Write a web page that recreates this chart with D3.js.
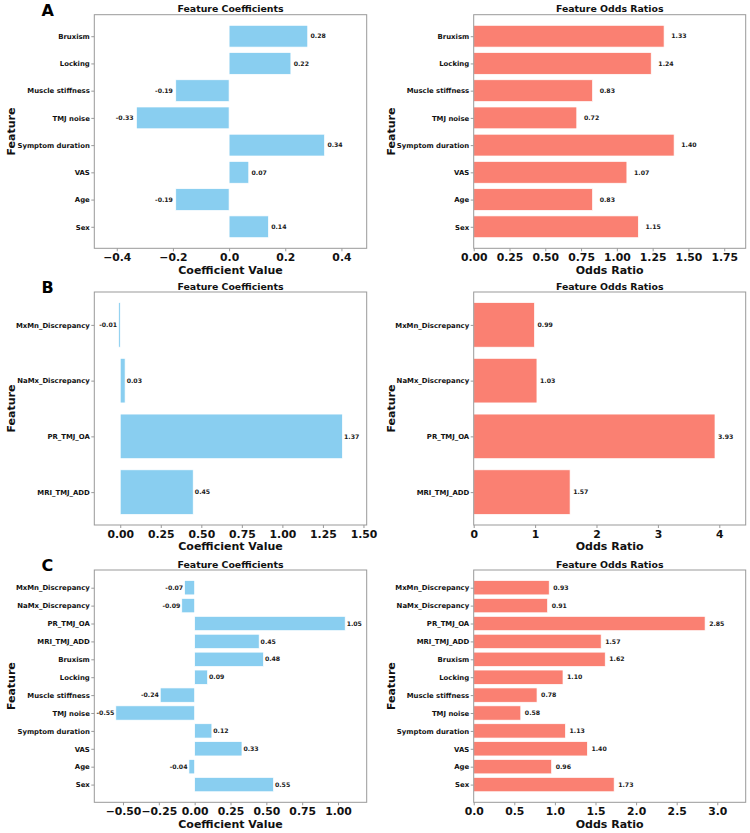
<!DOCTYPE html>
<html>
<head>
<meta charset="utf-8">
<script src="https://cdn.jsdelivr.net/npm/d3@7"></script>
<style>
  html, body { margin: 0; padding: 0; background: #fff; }
  svg { display: block; }
  text { font-family: "DejaVu Sans", sans-serif; font-weight: bold; }
</style>
</head>
<body>
<svg id="chart" width="750" height="833"></svg>
<script>
// ---------------- DATA (bottom-to-top order, as drawn) ----------------
const featuresA = ["Sex", "Age", "VAS", "Symptom duration", "TMJ noise", "Muscle stiffness", "Locking", "Bruxism"];
const coefA = [0.14, -0.19, 0.07, 0.34, -0.33, -0.19, 0.22, 0.28];
const oddsA = [1.15, 0.83, 1.07, 1.40, 0.72, 0.83, 1.24, 1.33];

const featuresB = ["MRI_TMJ_ADD", "PR_TMJ_OA", "NaMx_Discrepancy", "MxMn_Discrepancy"];
const coefB = [0.45, 1.37, 0.03, -0.01];
const oddsB = [1.57, 3.93, 1.03, 0.99];

const featuresC = ["Sex", "Age", "VAS", "Symptom duration", "TMJ noise", "Muscle stiffness", "Locking", "Bruxism", "MRI_TMJ_ADD", "PR_TMJ_OA", "NaMx_Discrepancy", "MxMn_Discrepancy"];
const coefC = [0.55, -0.04, 0.33, 0.12, -0.55, -0.24, 0.09, 0.48, 0.45, 1.05, -0.09, -0.07];
const oddsC = [1.73, 0.96, 1.40, 1.13, 0.58, 0.78, 1.10, 1.62, 1.57, 2.85, 0.91, 0.93];

const coefTicksA = [-0.4, -0.2, 0.0, 0.2, 0.4];
const oddsTicksA = [0, 0.25, 0.5, 0.75, 1.0, 1.25, 1.5, 1.75];
const coefTicksB = [0, 0.25, 0.5, 0.75, 1.0, 1.25, 1.5];
const oddsTicksB = [0, 1, 2, 3, 4];
const coefTicksC = [-0.5, -0.25, 0, 0.25, 0.5, 0.75, 1.0];
const oddsTicksC = [0, 0.5, 1.0, 1.5, 2.0, 2.5, 3.0];

const panelLetters = ["A", "B", "C"];
const titleCoef = "Feature Coefficients";
const titleOdds = "Feature Odds Ratios";
const xLabelCoef = "Coefficient Value";
const xLabelOdds = "Odds Ratio";
const yLabel = "Feature";

// ---------------- LAYOUT ----------------
const svg = d3.select("#chart");
const colLeft = { x0: 94.3, x1: 366.7 };
const colRight = { x0: 473.7, x1: 745.7 };
const rows = [
  { y0: 14.7, y1: 248.3 },
  { y0: 292.0, y1: 525.0 },
  { y0: 570.0, y1: 802.3 }
];
const BLUE = "#89CEF0";
const SALMON = "#FA8072";
const SPINE = "#999999";

const fmtTick = (dec) => (v) => {
  const s = Math.abs(v).toFixed(dec);
  return (v < -1e-9 ? "\u2212" : "") + s;
};

function drawPanel(cfg) {
  const { col, row, cats, vals, domain, ticks, tickDec, color, offset, title, xlabel } = cfg;
  const n = cats.length;
  const bh = 0.8;
  const span = (n - 1) + bh;
  const yMin = -bh / 2 - 0.05 * span;
  const yMax = (n - 1) + bh / 2 + 0.05 * span;
  const x = d3.scaleLinear().domain(domain).range([col.x0, col.x1]);
  const y = d3.scaleLinear().domain([yMin, yMax]).range([row.y1, row.y0]);

  const g = svg.append("g");

  // bars
  g.selectAll("rect.bar").data(vals).enter().append("rect")
    .attr("class", "bar")
    .attr("x", d => x(Math.min(0, d)))
    .attr("width", d => Math.abs(x(d) - x(0)))
    .attr("y", (d, i) => y(i + bh / 2))
    .attr("height", (d, i) => y(i - bh / 2) - y(i + bh / 2))
    .attr("fill", color)
    .attr("stroke", "#ffffff")
    .attr("stroke-width", 0.7);

  // value labels
  g.selectAll("text.val").data(vals).enter().append("text")
    .attr("class", "val")
    .attr("x", d => d >= 0 ? x(d + offset) : x(d - offset))
    .attr("y", (d, i) => y(i))
    .attr("dy", "0.35em")
    .attr("text-anchor", d => d >= 0 ? "start" : "end")
    .attr("font-size", 6.2)
    .attr("fill", "#1a1a1a")
    .text(d => d.toFixed(2));

  // axes
  const xAxis = d3.axisBottom(x).tickValues(ticks).tickFormat(fmtTick(tickDec)).tickSize(3).tickPadding(2);
  const gx = g.append("g").attr("transform", `translate(0,${row.y1})`).call(xAxis);
  gx.select(".domain").remove();
  gx.selectAll("line").attr("stroke", SPINE);
  gx.selectAll("text").attr("font-size", 10.8).attr("fill", "#111").attr("font-family", "DejaVu Sans").attr("font-weight", "bold");

  const yAxis = d3.axisLeft(y).tickValues(d3.range(n)).tickFormat(i => cats[i]).tickSize(3).tickPadding(1.5);
  const gy = g.append("g").attr("transform", `translate(${col.x0},0)`).call(yAxis);
  gy.select(".domain").remove();
  gy.selectAll("line").attr("stroke", SPINE);
  gy.selectAll("text").attr("font-size", 6.9).attr("fill", "#111").attr("font-family", "DejaVu Sans").attr("font-weight", "bold");

  // frame
  g.append("rect")
    .attr("x", col.x0).attr("y", row.y0)
    .attr("width", col.x1 - col.x0).attr("height", row.y1 - row.y0)
    .attr("fill", "none").attr("stroke", SPINE).attr("stroke-width", 1);

  // title
  g.append("text")
    .attr("x", (col.x0 + col.x1) / 2).attr("y", row.y0 - 2.3)
    .attr("text-anchor", "middle").attr("font-size", 9.4).attr("fill", "#111")
    .text(title);

  // x label
  g.append("text")
    .attr("x", (col.x0 + col.x1) / 2).attr("y", row.y1 + 25.3)
    .attr("text-anchor", "middle").attr("font-size", 11).attr("fill", "#111")
    .text(xlabel);

  // y label
  const ly = (row.y0 + row.y1) / 2;
  const lx = col.x0 - 79;
  g.append("text")
    .attr("transform", `translate(${lx},${ly}) rotate(-90)`)
    .attr("text-anchor", "middle").attr("font-size", 11).attr("fill", "#111")
    .text(yLabel);
}

const coefDomain = v => [d3.min(v) - 0.15, d3.max(v) + 0.15];
const oddsDomain = v => [0, d3.max(v) + 0.5];

const panels = [
  { cats: featuresA, coef: coefA, odds: oddsA, ct: coefTicksA, cd: 1, ot: oddsTicksA, od: 2 },
  { cats: featuresB, coef: coefB, odds: oddsB, ct: coefTicksB, cd: 2, ot: oddsTicksB, od: 0 },
  { cats: featuresC, coef: coefC, odds: oddsC, ct: coefTicksC, cd: 2, ot: oddsTicksC, od: 1 }
];

panels.forEach((p, i) => {
  drawPanel({ col: colLeft, row: rows[i], cats: p.cats, vals: p.coef, domain: coefDomain(p.coef),
    ticks: p.ct, tickDec: p.cd, color: BLUE, offset: 0.01, title: titleCoef, xlabel: xLabelCoef });
  drawPanel({ col: colRight, row: rows[i], cats: p.cats, vals: p.odds, domain: oddsDomain(p.odds),
    ticks: p.ot, tickDec: p.od, color: SALMON, offset: 0.05, title: titleOdds, xlabel: xLabelOdds });
  svg.append("text")
    .attr("x", 41.5).attr("y", rows[i].y0 + 1.2)
    .attr("font-size", 16).attr("fill", "#000")
    .text(panelLetters[i]);
});
</script>
</body>
</html>
